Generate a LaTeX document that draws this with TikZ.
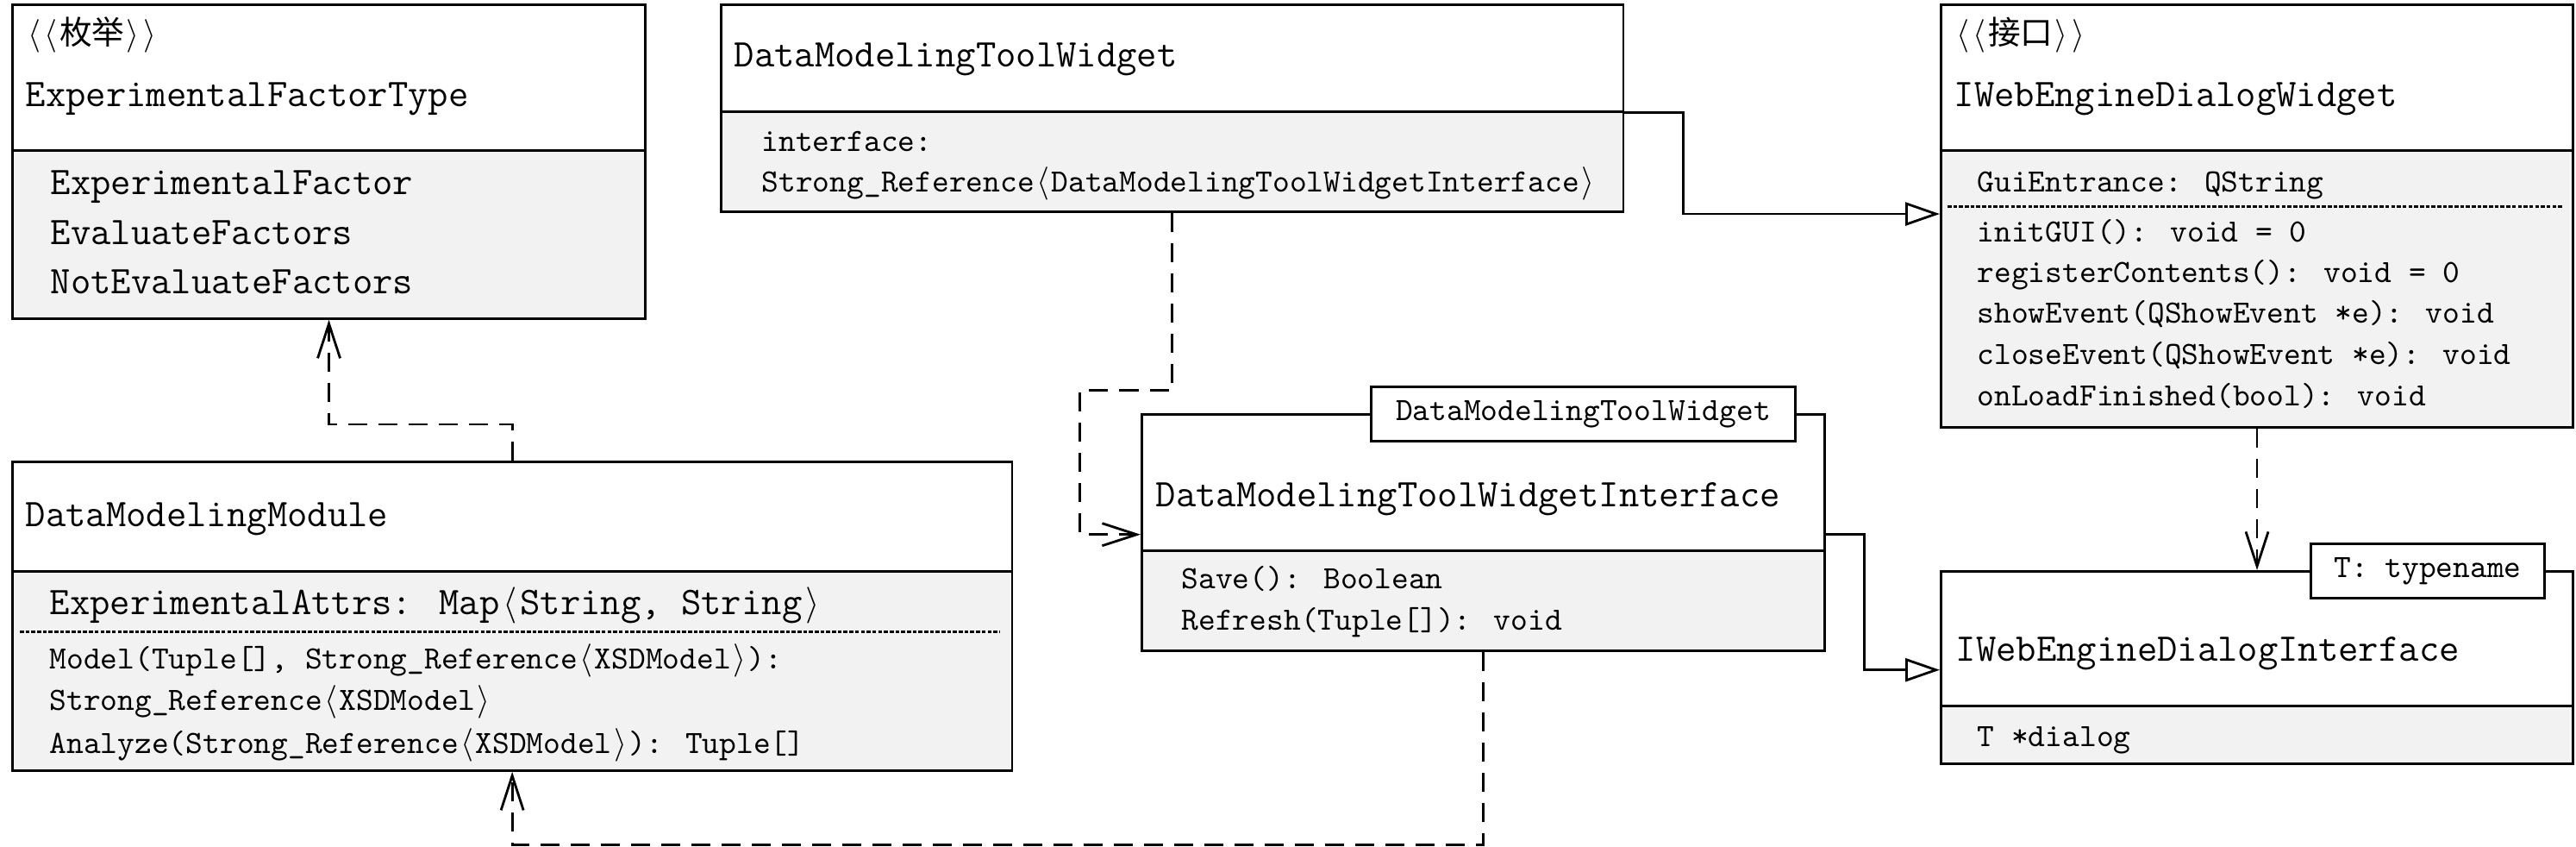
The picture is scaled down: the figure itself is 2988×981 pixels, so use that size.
\documentclass[tikz,border=0pt]{standalone}
\usepackage{fontspec}
\newfontfamily\cjk{Noto Sans CJK SC}
\usetikzlibrary{arrows.meta}
\definecolor{bodygray}{HTML}{F2F2F2}
\newcommand\bigtt{\ttfamily\fontsize{12.9}{15}\selectfont}
\newcommand\smalltt{\ttfamily\fontsize{10.7}{13}\selectfont}
\newcommand\langbr{\makebox[0.525em]{$\langle$}}
\newcommand\rangbr{\makebox[0.525em]{$\rangle$}}
\tikzset{box/.style={rectangle,draw=black,line width=0.75pt,anchor=north west,inner sep=0pt},head/.style={box,fill=white},body/.style={box,fill=bodygray},tmpl/.style={box,fill=white,font=\smalltt},txt/.style={anchor=base west,inner sep=0pt},big/.style={txt,font=\bigtt},small/.style={txt,font=\smalltt},sepline/.style={line width=0.85pt,dash pattern=on 1.3pt off 0.6pt},depend/.style={-{Straight Barb[length=4mm,width=2.6mm]},line width=0.8pt,dash pattern=on 2.2mm off 1.3mm},realize/.style={-{Triangle[open,length=4mm,width=2.7mm]},line width=0.8pt}}

\begin{document}
\begin{tikzpicture}[x=0.01cm,y=-0.01cm]
\useasboundingbox (0,0) rectangle (2988,981);

%ExperimentalFactorType
\node (eftHead) at (13,4)[head,minimum width=7.34cm,minimum height=1.69cm]{};
\node (eftBody) at (13,173)[body,minimum width=7.34cm,minimum height=1.95cm]{};
\node (eftStereo) at (29,51)[small]{\langbr\langbr{\cjk 枚举}\rangbr\rangbr};
\node (eftName) at (29,123)[big]{ExperimentalFactorType};
\node (eftLit1) at (58,225)[big]{ExperimentalFactor};
\node (eftLit2) at (58,283)[big]{EvaluateFactors};
\node (eftLit3) at (58,340)[big]{NotEvaluateFactors};

%DataModelingToolWidget
\node (dmtwHead) at (835,4)[head,minimum width=10.46cm,minimum height=1.24cm]{};
\node (dmtwBody) at (835,128)[body,minimum width=10.46cm,minimum height=1.16cm]{};
\node (dmtwName) at (851,77)[big]{DataModelingToolWidget};
\node (dmtwAttr1) at (883,175)[small]{interface:};
\node (dmtwAttr2) at (883,222)[small]{Strong\_Reference\langbr DataModelingToolWidgetInterface\rangbr};

%IWebEngineDialogWidget
\node (iwedwHead) at (2250,4)[head,minimum width=7.33cm,minimum height=1.69cm]{};
\node (iwedwBody) at (2250,173)[body,minimum width=7.33cm,minimum height=3.21cm]{};
\node (iwedwStereo) at (2266,51)[small]{\langbr\langbr{\cjk 接口}\rangbr\rangbr};
\node (iwedwName) at (2266,123)[big]{IWebEngineDialogWidget};
\node (iwedwAttr) at (2293,222)[small]{GuiEntrance: QString};
\draw[sepline] (2259,239) -- (2972,239);
\node (iwedwOp1) at (2293,280)[small]{initGUI(): void = 0};
\node (iwedwOp2) at (2293,327)[small]{registerContents(): void = 0};
\node (iwedwOp3) at (2293,374)[small]{showEvent(QShowEvent *e): void};
\node (iwedwOp4) at (2293,422)[small]{closeEvent(QShowEvent *e): void};
\node (iwedwOp5) at (2293,470)[small]{onLoadFinished(bool): void};

%DataModelingModule
\node (dmmHead) at (13,534)[head,minimum width=11.59cm,minimum height=1.27cm]{};
\node (dmmBody) at (13,661)[body,minimum width=11.59cm,minimum height=2.31cm]{};
\node (dmmName) at (29,610)[big]{DataModelingModule};
\node (dmmAttr) at (57,712)[big]{ExperimentalAttrs: Map\langbr String, String\rangbr};
\draw[sepline] (23,732) -- (1159,732);
\node (dmmOp1) at (57,775)[small]{Model(Tuple[], Strong\_Reference\langbr XSDModel\rangbr):};
\node (dmmOp2) at (57,823)[small]{Strong\_Reference\langbr XSDModel\rangbr};
\node (dmmOp3) at (57,873)[small]{Analyze(Strong\_Reference\langbr XSDModel\rangbr): Tuple[]};

%DataModelingToolWidgetInterface
\node (dmtwiHead) at (1323,479)[head,minimum width=7.92cm,minimum height=1.58cm]{};
\node (dmtwiBody) at (1323,637)[body,minimum width=7.92cm,minimum height=1.16cm]{};
\node (dmtwiTmpl) at (1589,447)[tmpl,minimum width=4.92cm,minimum height=0.63cm]{DataModelingToolWidget};
\node (dmtwiName) at (1340,587)[big]{DataModelingToolWidgetInterface};
\node (dmtwiOp1) at (1370,682)[small]{Save(): Boolean};
\node (dmtwiOp2) at (1370,730)[small]{Refresh(Tuple[]): void};

%IWebEngineDialogInterface
\node (iwediHead) at (2250,661)[head,minimum width=7.33cm,minimum height=1.56cm]{};
\node (iwediBody) at (2250,817)[body,minimum width=7.33cm,minimum height=0.67cm]{};
\node (iwediTmpl) at (2679,629)[tmpl,minimum width=2.71cm,minimum height=0.63cm]{T: typename};
\node (iwediName) at (2268,766)[big]{IWebEngineDialogInterface};
\node (iwediAttr) at (2293,865)[small]{T *dialog};

%relations
\draw[depend] (dmmHead.north) -- ++(0,-42) -| (eftBody.south);
\draw[depend] (dmtwBody.south) |- ++(-107,206) |- ([yshift=0.2cm]dmtwiHead.south west);
\draw[realize] (dmtwHead.south east) -- ++(68,0) |- ([yshift=-0.75cm]iwedwBody.north west);
\draw[realize] ([yshift=0.2cm]dmtwiHead.south east) -- ++(44,0) |- ([yshift=0.43cm]iwediHead.south west);
\draw[depend] (iwedwBody.south) -- (iwediHead.north);
\draw[depend] (dmtwiBody.south) -- ++(0,224) -| (dmmBody.south);

\end{tikzpicture}
\end{document}
